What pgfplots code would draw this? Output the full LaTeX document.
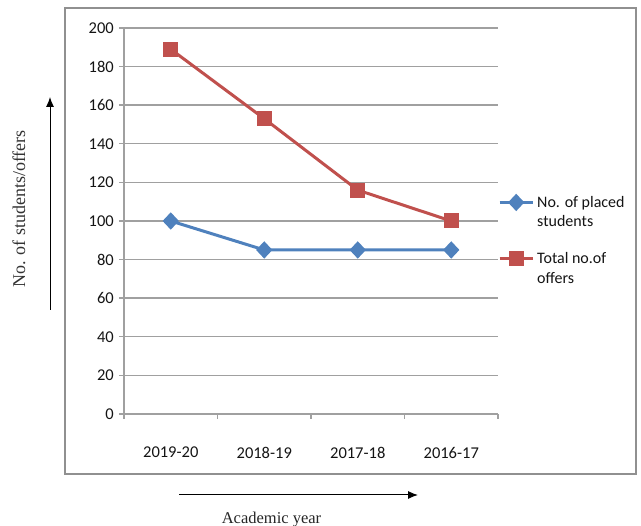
\documentclass[border=0pt]{standalone}
\usepackage{pgfplots}
\pgfplotsset{compat=1.18}
\usepackage{fontspec}
\setmainfont{Liberation Serif}
\newfontfamily\calibri{Carlito}
\usetikzlibrary{arrows.meta}
\definecolor{xblue}{HTML}{4F81BD}
\definecolor{xred}{HTML}{C0504D}
\definecolor{gridgray}{HTML}{A0A0A0}
\begin{document}
\begin{tikzpicture}[x=1pt,y=1pt]
\path[use as bounding box] (0,0) rectangle (641,526);
\draw[color=gridgray!90!black, line width=1.5pt] (65,52) rectangle (636,518);
\begin{axis}[
  at={(124pt,112pt)}, anchor=south west,
  width=374pt, height=386pt, scale only axis,
  xmin=-0.5, xmax=3.5, ymin=0, ymax=200,
  axis x line=bottom, axis y line=left,
  axis line style={-, color=gridgray, line width=1.4pt},
  xtick={-0.5,0.5,1.5,2.5,3.5},
  xticklabels={2019-20,2018-19,2017-18,2016-17,{}},
  ytick={0,20,...,200},
  ymajorgrids, major grid style={color=gridgray, line width=1.4pt},
  tick align=outside, major tick length=5pt,
  tick style={color=gridgray, line width=1.4pt},
  /pgf/number format/assume math mode=true,
  tick label style={font=\calibri\fontsize{16.5}{19}\selectfont, text=black!92, inner sep=0pt},
  yticklabel style={anchor=east, xshift=-5pt},
  xticklabel style={xshift=46.75pt, yshift=-28pt, anchor=north},
  legend style={draw=none, fill=none, inner sep=0pt, at={(1.0,0.571)}, anchor=north west,
    cells={anchor=base west}, column sep=3pt, row sep=41pt,
    font=\calibri\fontsize{16}{19.5}\selectfont, text=black!92,
    nodes={inner sep=0pt}},
  legend image code/.code={\draw[#1, mark repeat=2, mark phase=2] plot coordinates {(0pt,5pt)(16.5pt,5pt)(33pt,5pt)};},
  clip=false,
]
\addplot[color=xblue, line width=3pt, mark=diamond*, mark size=6.5pt, mark options={xscale=1.25, solid, fill=xblue}]
  coordinates {(0,100) (1,85) (2,85) (3,85)};
\addlegendentry{\begin{tabular}[t]{@{}l@{}}No. of placed\\students\end{tabular}}
\addplot[color=xred, line width=3pt, mark=square*, mark size=6pt, mark options={solid, fill=xred}]
  coordinates {(0,189) (1,153) (2,116) (3,100)};
\addlegendentry{\begin{tabular}[t]{@{}l@{}}Total no.of\\offers\end{tabular}}
\end{axis}
\draw[line width=1pt, -{Latex[length=10pt,width=8pt]}] (50,216) -- (50,429);
\draw[line width=1pt, -{Latex[length=10pt,width=8pt]}] (179,31) -- (418,31);
\node[rotate=90, anchor=base, inner sep=0pt, font=\fontsize{18}{21}\selectfont, text=black!80] at (25,317) {No. of students/offers};
\node[anchor=base, inner sep=0pt, font=\fontsize{16.5}{19}\selectfont, text=black!85] at (271.5,2) {Academic year};
\end{tikzpicture}
\end{document}
